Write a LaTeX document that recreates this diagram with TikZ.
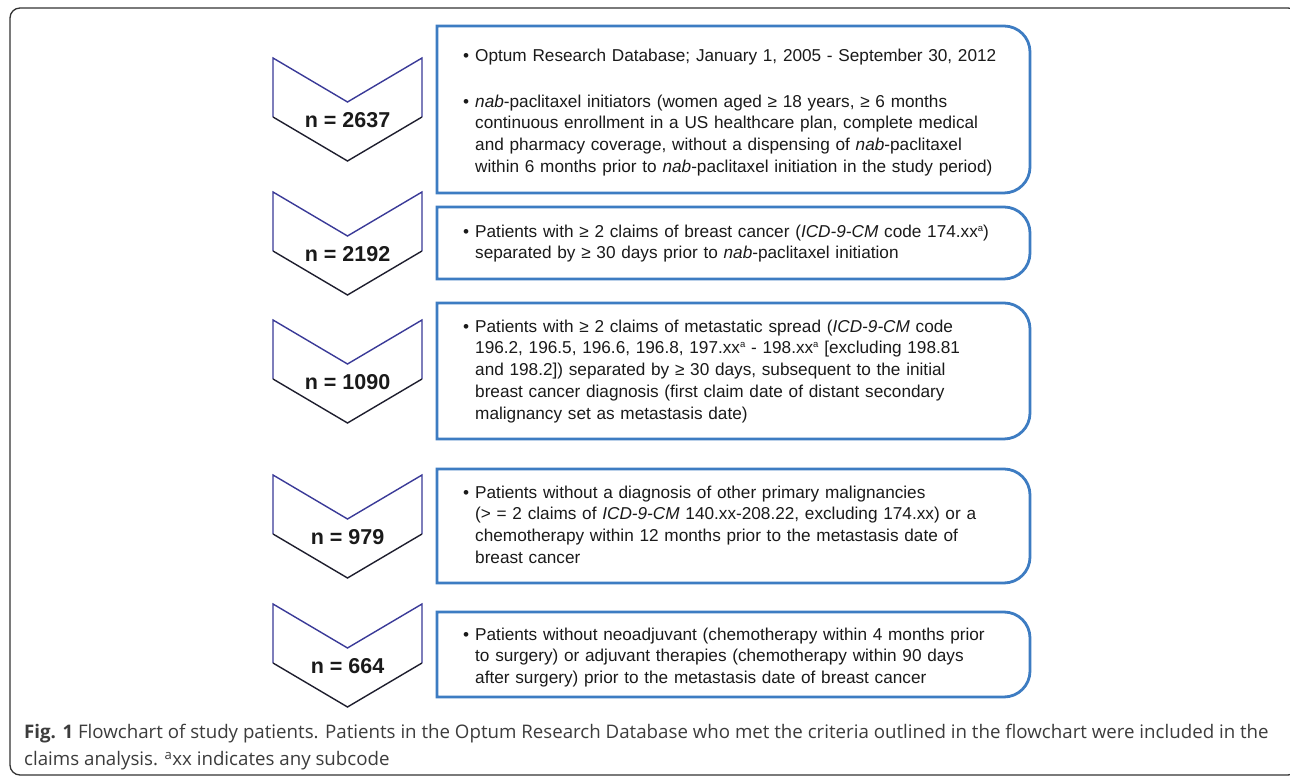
\documentclass[tikz,border=0pt]{standalone}
\usepackage{fontspec}
\setmainfont{Liberation Sans}
\newfontfamily\capfont{Open Sans}
\usetikzlibrary{calc}
\definecolor{boxblue}{HTML}{3D7CC2}
\definecolor{chevtop}{HTML}{3A3A98}
\definecolor{chevbot}{HTML}{1E1E2E}
\definecolor{captxt}{HTML}{3C3C3C}
\definecolor{txt}{HTML}{1A1A1A}
\tikzset{
  outerframe/.style={draw=black!80, line width=1.3pt, rounded corners=10pt},
  critline/.style={draw=boxblue, line width=2.8pt, line join=miter},
  chevup/.style={draw=chevtop, line width=1.4pt, line join=miter},
  chevdown/.style={draw=chevbot, line width=1.4pt, line join=miter},
  countlabel/.style={font=\fontsize{21.5}{24}\selectfont\bfseries, inner sep=0pt, text=txt},
  crit/.style={anchor=north west, inner sep=0pt, text width=600pt, align=left,
    font=\fontsize{17.2}{21.8}\selectfont, text=txt},
  captext/.style={anchor=base west, inner sep=0pt, font=\capfont\fontsize{18.7}{24}\selectfont, text=captxt}
}
\newcommand\chevronmark[3]{%
  \node[countlabel] (#1) at (347.5,#2) {#3};
  \draw[chevup] ([shift={(-74.5,3)}]#1.center) -- ([shift={(-74.5,62)}]#1.center)
     -- ([shift={(0,18)}]#1.center) -- ([shift={(74.5,62)}]#1.center) -- ([shift={(74.5,3)}]#1.center);
  \draw[chevdown] ([shift={(-74.5,3)}]#1.center) -- ([shift={(0,-41)}]#1.center)
     -- ([shift={(74.5,3)}]#1.center);
}
\newcommand\critframe[2]{%
  \draw[critline] (437,#1) -- (1004,#1) arc[start angle=90,end angle=0,radius=26pt]
    -- (1030,{#2+26}) arc[start angle=0,end angle=-90,radius=26pt] -- (437,#2) -- cycle;
}
\newcommand\critstart{\setlength{\parindent}{0pt}\rule{0pt}{14pt}}
\newcommand\bul{\hangindent=12pt\hangafter=1\makebox[12pt][l]{•}}
\newcommand\supa{\raisebox{6pt}{\fontsize{9.5}{10}\selectfont a}}
\begin{document}
\begin{tikzpicture}[x=1pt,y=1pt]
\useasboundingbox (0,0) rectangle (1290,778);
\fill[white] (0,0) rectangle (1290,778);
\draw[outerframe] (10,3) rectangle (1298,770);

% counts
\chevronmark{n1}{658}{n = 2637}
\chevronmark{n2}{524}{n = 2192}
\chevronmark{n3}{396}{n = 1090}
\chevronmark{n4}{241}{n = 979}
\chevronmark{n5}{112}{n = 664}

% criteria boxes
\critframe{752}{585}
\critframe{571}{499}
\critframe{475}{339}
\critframe{309}{195}
\critframe{166}{81}

\node[crit] (c1) at (463,731) {\critstart\bul Optum Research Database; January 1, 2005 - September 30, 2012\par
\vspace{24.2pt}
\bul\textit{nab}-paclitaxel initiators (women aged ≥ 18 years, ≥ 6 months\newline
continuous enrollment in a US healthcare plan, complete medical\newline
and pharmacy coverage, without a dispensing of \textit{nab}-paclitaxel\newline
within 6 months prior to \textit{nab}-paclitaxel initiation in the study period)\par};

\node[crit] (c2) at (463,555) {\critstart\bul Patients with ≥ 2 claims of breast cancer (\textit{ICD-9-CM} code 174.xx\supa)\newline
separated by ≥ 30 days prior to \textit{nab}-paclitaxel initiation\par};

\node[crit] (c3) at (463,460) {\critstart\bul Patients with ≥ 2 claims of metastatic spread (\textit{ICD-9-CM} code\newline
196.2, 196.5, 196.6, 196.8, 197.xx\supa\ - 198.xx\supa\ [excluding 198.81\newline
and 198.2]) separated by ≥ 30 days, subsequent to the initial\newline
breast cancer diagnosis (first claim date of distant secondary\newline
malignancy set as metastasis date)\par};

\node[crit] (c4) at (463,294) {\critstart\bul Patients without a diagnosis of other primary malignancies\newline
(> = 2 claims of \textit{ICD-9-CM} 140.xx-208.22, excluding 174.xx) or a\newline
chemotherapy within 12 months prior to the metastasis date of\newline
breast cancer\par};

\node[crit] (c5) at (463,152) {\critstart\bul Patients without neoadjuvant (chemotherapy within 4 months prior\newline
to surgery) or adjuvant therapies (chemotherapy within 90 days\newline
after surgery) prior to the metastasis date of breast cancer\par};

% caption
\node[captext] (cap1) at (24,39) {\textbf{Fig. 1} Flowchart of study patients. Patients in the Optum Research Database who met the criteria outlined in the flowchart were included in the};
\node[captext] (cap2) at (24,12) {claims analysis. \textsuperscript{a}xx indicates any subcode};
\end{tikzpicture}
\end{document}
